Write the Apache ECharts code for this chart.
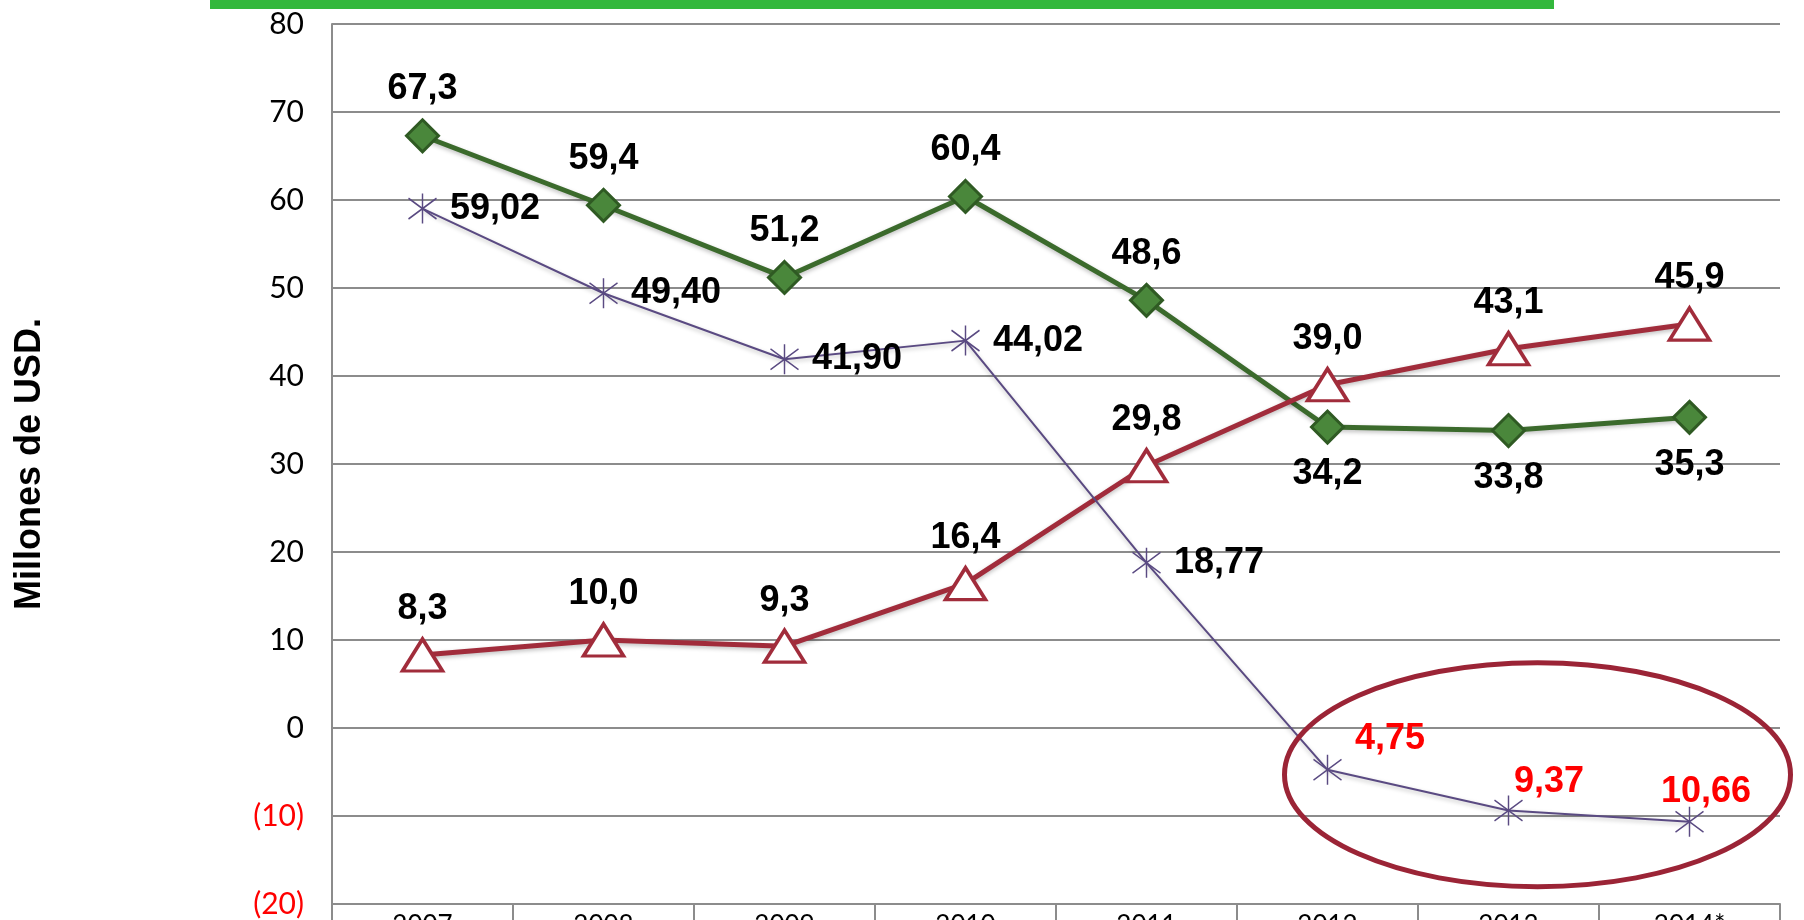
<!DOCTYPE html>
<html>
<head>
<meta charset="utf-8">
<script src="https://cdn.jsdelivr.net/npm/echarts@6/dist/echarts.min.js"></script>
<style>
  html, body { margin: 0; padding: 0; background: #fff; }
  #chart { width: 1804px; height: 920px; }
</style>
</head>
<body>
<div id="chart"></div>
<script>
const years = ['2007', '2008', '2009', '2010', '2011', '2012', '2013', '2014*']
const greenVals = [67.3, 59.4, 51.2, 60.4, 48.6, 34.2, 33.8, 35.3]
const redVals = [8.3, 10.0, 9.3, 16.4, 29.8, 39.0, 43.1, 45.9]
const purpleVals = [59.02, 49.40, 41.90, 44.02, 18.77, -4.75, -9.37, -10.66]
const yTicks = { min: -20, max: 80, step: 10 }

const labelFont = { fontFamily: 'Liberation Sans', fontWeight: 'bold', fontSize: 36, color: '#000' }
const fmt = (v, d) => Math.abs(v).toFixed(d).replace('.', ',')

const chart = echarts.init(document.getElementById('chart'))

// green: labels below from 2012 on
const greenData = greenVals.map((v, i) => ({
  value: v,
  label: i >= 5 ? { position: 'bottom', distance: 12 } : { position: 'top', distance: 11 }
}))

// purple: last three in red, above right
const purpleOffsets = [null, null, null, null, null, [0, -31], [-22, -28], [-56, -30]]
const purpleData = purpleVals.map((v, i) => {
  const o = purpleOffsets[i]
  if (!o) return { value: v }
  return { value: v, label: { color: '#ff0000', offset: o } }
})

const asterisk = 'path://M0,-13L0,13M-11,-9L11,9M-11,9L11,-9'

const option = {
  backgroundColor: '#fff',
  animation: false,
  grid: { left: 332, right: 24, top: 24, bottom: 16, containLabel: false, outerBoundsMode: 'none' },
  xAxis: {
    type: 'category',
    data: years,
    boundaryGap: true,
    axisLine: { onZero: false, lineStyle: { color: '#8c8c8c', width: 2 } },
    axisTick: { show: true, length: 30, lineStyle: { color: '#8c8c8c', width: 2 } },
    axisLabel: { margin: 9, fontFamily: 'Lato', fontSize: 26, color: '#000' }
  },
  yAxis: {
    type: 'value',
    min: yTicks.min,
    max: yTicks.max,
    interval: yTicks.step,
    name: 'Millones de USD.',
    nameLocation: 'middle',
    nameRotate: 90,
    nameGap: 284,
    nameTextStyle: { fontFamily: 'Liberation Sans', fontWeight: 'bold', fontSize: 36, color: '#000' },
    axisLine: { show: true, lineStyle: { color: '#8c8c8c', width: 2 } },
    axisTick: { show: false },
    splitLine: { lineStyle: { color: '#8c8c8c', width: 2 } },
    axisLabel: {
      margin: 28,
      fontFamily: 'Lato',
      fontSize: 30,
      color: '#000',
      formatter: v => v < 0 ? '{neg|(' + (-v) + ')}' : String(v),
      rich: { neg: { color: '#ff0000', fontFamily: 'Lato', fontSize: 30 } }
    }
  },
  series: [
    {
      name: 'verde',
      type: 'line',
      data: greenData,
      symbol: 'diamond',
      symbolSize: 32,
      lineStyle: { color: '#3b6a2c', width: 5, shadowColor: 'rgba(0,0,0,0.25)', shadowBlur: 4, shadowOffsetY: 2 },
      itemStyle: { color: '#4a873b', borderColor: '#2f5a23', borderWidth: 3 },
      label: { show: true, ...labelFont, formatter: p => fmt(p.value, 1) },
      z: 3
    },
    {
      name: 'rojo',
      type: 'line',
      data: redVals,
      symbol: 'triangle',
      symbolSize: [40, 32],
      lineStyle: { color: '#a12c3b', width: 5, shadowColor: 'rgba(0,0,0,0.25)', shadowBlur: 4, shadowOffsetY: 2 },
      itemStyle: { color: '#fff', borderColor: '#a12c3b', borderWidth: 3.5 },
      label: { show: true, position: 'top', distance: 10, ...labelFont, formatter: p => fmt(p.value, 1) },
      z: 4
    },
    {
      name: 'morado',
      type: 'line',
      data: purpleData,
      symbol: asterisk,
      symbolSize: [28, 30],
      lineStyle: { color: '#5a4a82', width: 2, shadowColor: 'rgba(0,0,0,0.25)', shadowBlur: 4, shadowOffsetY: 2 },
      itemStyle: { color: 'none', borderColor: '#5a4a82', borderWidth: 1.5 },
      label: { show: true, position: 'right', distance: 11, ...labelFont, formatter: p => fmt(p.value, 2) },
      z: 5
    }
  ]
}
chart.setOption(option)

// decoration: green band at top and the ellipse round the negative values
const c = chart.convertToPixel({ gridIndex: 0 }, ['2013', -5.3])
chart.setOption({
  graphic: [
    { type: 'rect', left: 210, top: 0, shape: { width: 1344, height: 9 }, style: { fill: '#33b83c' }, z: 10 },
    {
      type: 'ellipse',
      shape: { cx: c[0] + 29, cy: c[1], rx: 253, ry: 112 },
      style: { fill: 'none', stroke: '#9b2436', lineWidth: 5 },
      z: 10
    }
  ]
})
</script>
</body>
</html>
